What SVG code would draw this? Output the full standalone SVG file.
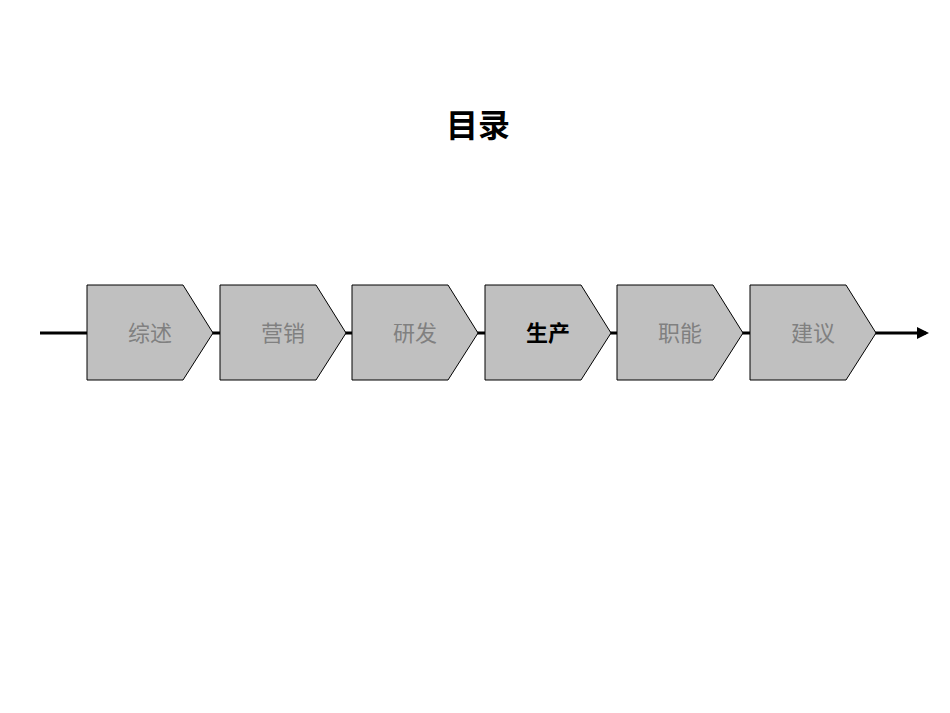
<svg xmlns="http://www.w3.org/2000/svg" width="950" height="713" viewBox="0 0 950 713">
<style>
.s{fill:#c0c0c0;stroke:#000;stroke-width:1}
.t{font-family:"Liberation Sans","Noto Sans CJK SC",sans-serif;font-size:22px;fill:#808080;text-anchor:middle}
.a{font-weight:bold;fill:#000}
</style>
<defs><marker id="ar" markerWidth="4" markerHeight="4" refX="3" refY="2" orient="auto"><path d="M0,0L4,2L0,4z" fill="#000"/></marker></defs>
<rect width="950" height="713" fill="#fff"/>
<text x="478" y="137" font-family="'Noto Sans CJK SC',sans-serif" font-size="32" font-weight="bold" text-anchor="middle">目录</text>
<g id="connectors"><line x1="40" y1="333" x2="926" y2="333" stroke="#000" stroke-width="3" marker-end="url(#ar)"/></g>
<g id="n1"><path class="s" d="M87,285H183L213,333L183,380H87Z"/><text class="t" x="150" y="341">综述</text></g>
<g id="n2"><path class="s" d="M220,285H316L346,333L316,380H220Z"/><text class="t" x="283" y="341">营销</text></g>
<g id="n3"><path class="s" d="M352,285H448L478,333L448,380H352Z"/><text class="t" x="415" y="341">研发</text></g>
<g id="n4"><path class="s" d="M485,285H581L611,333L581,380H485Z"/><text class="t a" x="548" y="341">生产</text></g>
<g id="n5"><path class="s" d="M617,285H713L743,333L713,380H617Z"/><text class="t" x="680" y="341">职能</text></g>
<g id="n6"><path class="s" d="M750,285H846L876,333L846,380H750Z"/><text class="t" x="813" y="341">建议</text></g>
</svg>
